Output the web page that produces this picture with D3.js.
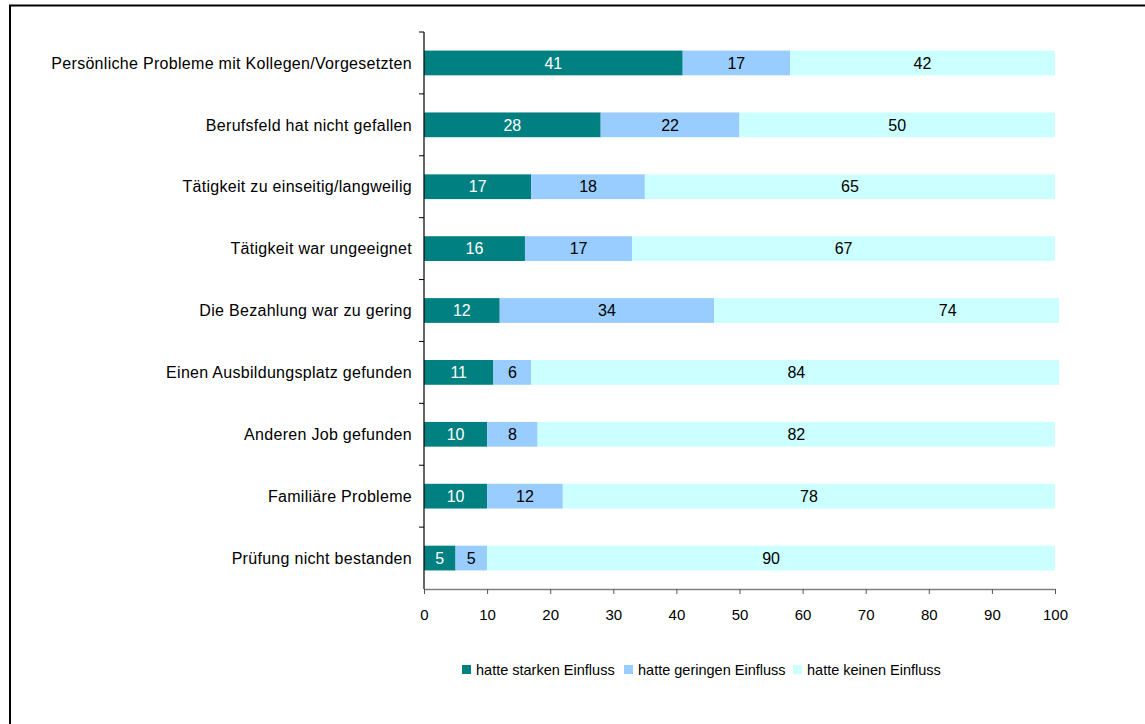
<!DOCTYPE html>
<html>
<head>
<meta charset="utf-8">
<script src="https://cdn.jsdelivr.net/npm/d3@7"></script>
<style>
  html, body { margin: 0; padding: 0; background: #fff; }
  svg { display: block; font-family: "Liberation Sans", Arial, sans-serif; }
</style>
</head>
<body>
<svg id="chart" width="1145" height="724"></svg>
<script>
// Reasons for ending the job, share of respondents (%)
const categories = [
  "Persönliche Probleme mit Kollegen/Vorgesetzten",
  "Berufsfeld hat nicht gefallen",
  "Tätigkeit zu einseitig/langweilig",
  "Tätigkeit war ungeeignet",
  "Die Bezahlung war zu gering",
  "Einen Ausbildungsplatz gefunden",
  "Anderen Job gefunden",
  "Familiäre Probleme",
  "Prüfung nicht bestanden"
];
const strong = [41, 28, 17, 16, 12, 11, 10, 10, 5];
const minor  = [17, 22, 18, 17, 34, 6, 8, 12, 5];
const none   = [42, 50, 65, 67, 74, 84, 82, 78, 90];
const seriesNames = ["hatte starken Einfluss", "hatte geringen Einfluss", "hatte keinen Einfluss"];
const seriesColors = ["#008080", "#99CCFF", "#CCFFFF"];
const labelColors = ["#ffffff", "#000000", "#000000"];
const xTicks = [0, 10, 20, 30, 40, 50, 60, 70, 80, 90, 100];

const svg = d3.select("#chart");

// outer frame
svg.append("rect")
  .attr("x", 10).attr("y", 5.5)
  .attr("width", 1160).attr("height", 740)
  .attr("fill", "none").attr("stroke", "#000").attr("stroke-width", 2);

const plotLeft = 424, plotRight = 1055, plotTop = 32, plotBottom = 589;

const x = d3.scaleLinear().domain([0, 100]).range([plotLeft, plotRight]);
const y = d3.scaleBand().domain(categories).range([plotTop, plotBottom]).paddingInner(0.6).paddingOuter(0.3);

const table = categories.map((c, i) => ({ cat: c, s0: strong[i], s1: minor[i], s2: none[i] }));
const stacked = d3.stack().keys(["s0", "s1", "s2"])(table);

// plot area clip (bars may not run past the right edge of the plot area)
svg.append("defs").append("clipPath").attr("id", "plotClip")
  .append("rect").attr("x", plotLeft).attr("y", plotTop)
  .attr("width", plotRight + 4 - plotLeft).attr("height", plotBottom - plotTop);

const barsG = svg.append("g").attr("clip-path", "url(#plotClip)");
stacked.forEach((layer, k) => {
  barsG.selectAll(null).data(layer).join("rect")
    .attr("x", d => x(d[0]))
    .attr("y", d => y(d.data.cat))
    .attr("width", d => x(d[1]) - x(d[0]))
    .attr("height", y.bandwidth())
    .attr("fill", seriesColors[k]);
});

// value labels
stacked.forEach((layer, k) => {
  svg.append("g").selectAll("text").data(layer).join("text")
    .attr("x", d => x((d[0] + d[1]) / 2))
    .attr("y", d => y(d.data.cat) + y.bandwidth() / 2)
    .attr("dy", "0.36em")
    .attr("text-anchor", "middle")
    .attr("font-size", 16)
    .attr("fill", labelColors[k])
    .text(d => d[1] - d[0]);
});

// x axis
const xAxis = svg.append("g")
  .attr("transform", `translate(0,${plotBottom})`)
  .call(d3.axisBottom(x).tickValues(xTicks).tickSize(5).tickSizeOuter(0).tickPadding(15));
xAxis.select(".domain").attr("stroke", "#808080").attr("stroke-width", 1.5);
xAxis.selectAll(".tick line").attr("stroke", "#555");
xAxis.selectAll("text").attr("font-size", 15).attr("fill", "#000")
  .attr("font-family", "Liberation Sans, Arial, sans-serif");

// y axis: ticks sit at the band boundaries
const yAxisG = svg.append("g").attr("transform", `translate(${plotLeft},0)`);
yAxisG.append("line").attr("x1", 0).attr("x2", 0).attr("y1", plotTop).attr("y2", plotBottom)
  .attr("stroke", "#000").attr("stroke-width", 1.2);
const step = y.step();
const boundaries = d3.range(categories.length).map(i => plotTop + i * step);
yAxisG.selectAll(".yt").data(boundaries).join("line")
  .attr("x1", -5).attr("x2", 0).attr("y1", d => d).attr("y2", d => d)
  .attr("stroke", "#000");
yAxisG.selectAll(".yl").data(categories).join("text")
  .attr("x", -12)
  .attr("y", d => y(d) + y.bandwidth() / 2)
  .attr("dy", "0.36em")
  .attr("text-anchor", "end")
  .attr("font-size", 16)
  .attr("letter-spacing", 0.3)
  .attr("fill", "#000")
  .text(d => d);

// legend
const legendX = [462, 624, 793];
const legend = svg.append("g");
seriesNames.forEach((name, k) => {
  legend.append("rect").attr("x", legendX[k]).attr("y", 665).attr("width", 9).attr("height", 9)
    .attr("fill", seriesColors[k]);
  legend.append("text").attr("x", legendX[k] + 14).attr("y", 670).attr("dy", "0.36em")
    .attr("font-size", 14.5).attr("fill", "#000").text(name);
});
</script>
</body>
</html>
